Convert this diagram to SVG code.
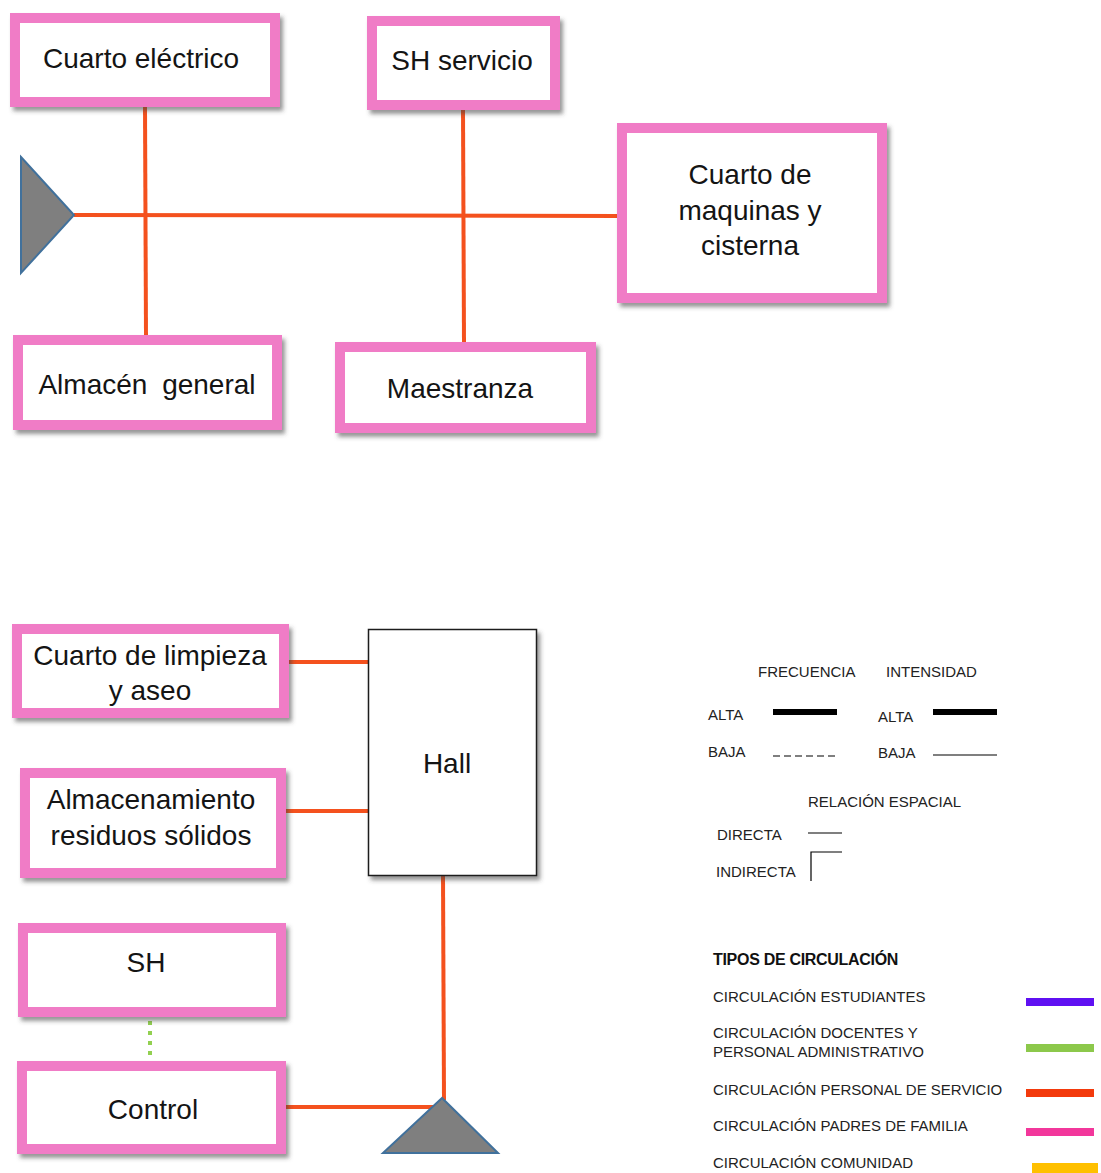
<svg xmlns="http://www.w3.org/2000/svg" width="1101" height="1173" viewBox="0 0 1101 1173">
  <defs>
    <filter id="shadow" x="-10%" y="-10%" width="125%" height="130%">
      <feDropShadow dx="3" dy="4" stdDeviation="2" flood-color="#404040" flood-opacity="0.55"/>
    </filter>
  </defs>
  <style>
    .room { fill: #ffffff; stroke: #f07cc6; stroke-width: 10; filter: url(#shadow); }
    .hall { fill: #ffffff; stroke: #1a1a1a; stroke-width: 1.5; filter: url(#shadow); }
    .label { font-family: "Liberation Sans", Arial, sans-serif; font-size: 28px; fill: #141414; text-anchor: middle; }
    .link { stroke: #f4511e; stroke-width: 4; fill: none; }
    .link-soft { stroke: #92d050; stroke-width: 4; stroke-dasharray: 4 6; fill: none; }
    .access { fill: #7f7f7f; stroke: #41719c; stroke-width: 2; }
    .legend { font-family: "Liberation Sans", Arial, sans-serif; font-size: 15px; fill: #222222; }
    .legend-title { font-family: "Liberation Sans", Arial, sans-serif; font-size: 16px; font-weight: bold; letter-spacing: -0.3px; fill: #111111; }
    .key-thick { stroke: #000000; stroke-width: 6; }
    .key-thin { stroke: #000000; stroke-width: 1.2; fill: none; }
    .key-dash { stroke: #000000; stroke-width: 1.2; stroke-dasharray: 7 4; }
    .swatch { stroke-width: 8; }
  </style>

  <rect width="1101" height="1173" fill="#ffffff"/>

  <!-- connectors -->
  <g id="connectors">
    <line class="link" x1="145" y1="107" x2="146" y2="336"/>
    <line class="link" x1="463" y1="110" x2="464" y2="343"/>
    <line class="link" x1="74" y1="215" x2="618" y2="216"/>
    <line class="link" x1="288" y1="662" x2="369" y2="662"/>
    <line class="link" x1="285" y1="811" x2="369" y2="811"/>
    <line class="link" x1="443" y1="875" x2="444" y2="1100"/>
    <line class="link" x1="285" y1="1107" x2="440" y2="1107"/>
    <line class="link-soft" x1="150" y1="1021" x2="150" y2="1058"/>
  </g>

  <!-- upper group: service rooms -->
  <g id="acceso-servicio">
    <polygon class="access" points="21,157 74,215 21,273"/>
  </g>
  <g id="cuarto-electrico">
    <rect class="room" x="15" y="18" width="260" height="84"/>
    <text class="label" x="141" y="68">Cuarto eléctrico</text>
  </g>
  <g id="sh-servicio">
    <rect class="room" x="372" y="21" width="183" height="84"/>
    <text class="label" x="462" y="70">SH servicio</text>
  </g>
  <g id="cuarto-maquinas">
    <rect class="room" x="622" y="128" width="260" height="170"/>
    <text class="label" x="750" y="184">Cuarto de</text>
    <text class="label" x="750" y="220">maquinas y</text>
    <text class="label" x="750" y="255">cisterna</text>
  </g>
  <g id="almacen-general">
    <rect class="room" x="18" y="340" width="259" height="85"/>
    <text class="label" x="147" y="394" word-spacing="7">Almacén general</text>
  </g>
  <g id="maestranza">
    <rect class="room" x="340" y="347" width="251" height="81"/>
    <text class="label" x="460" y="398">Maestranza</text>
  </g>

  <!-- lower group: hall and rooms -->
  <g id="hall">
    <rect class="hall" x="368.5" y="629.5" width="168" height="246"/>
    <text class="label" x="447" y="773">Hall</text>
  </g>
  <g id="cuarto-limpieza">
    <rect class="room" x="17" y="629" width="267" height="84"/>
    <text class="label" x="150" y="665">Cuarto de limpieza</text>
    <text class="label" x="150" y="700">y aseo</text>
  </g>
  <g id="almacenamiento-residuos">
    <rect class="room" x="25" y="773" width="256" height="100"/>
    <text class="label" x="151" y="809">Almacenamiento</text>
    <text class="label" x="151" y="845">residuos sólidos</text>
  </g>
  <g id="sh">
    <rect class="room" x="23" y="928" width="258" height="84"/>
    <text class="label" x="146" y="972">SH</text>
  </g>
  <g id="control">
    <rect class="room" x="22" y="1066" width="259" height="83"/>
    <text class="label" x="153" y="1119">Control</text>
  </g>
  <g id="acceso-hall">
    <polygon class="access" points="442,1098 383,1153 498,1153"/>
  </g>

  <!-- legend: relationship keys -->
  <g id="leyenda-relacion">
    <text class="legend" x="758" y="677">FRECUENCIA</text>
    <text class="legend" x="886" y="677">INTENSIDAD</text>
    <text class="legend" x="708" y="720">ALTA</text>
    <line class="key-thick" x1="773" y1="712" x2="837" y2="712"/>
    <text class="legend" x="708" y="757">BAJA</text>
    <line class="key-dash" x1="773" y1="756" x2="837" y2="756"/>
    <text class="legend" x="878" y="722">ALTA</text>
    <line class="key-thick" x1="933" y1="712" x2="997" y2="712"/>
    <text class="legend" x="878" y="758">BAJA</text>
    <line class="key-thin" x1="933" y1="755" x2="997" y2="755"/>
    <text class="legend" x="808" y="807">RELACIÓN ESPACIAL</text>
    <text class="legend" x="717" y="840">DIRECTA</text>
    <line class="key-thin" x1="808" y1="833" x2="842" y2="833"/>
    <text class="legend" x="716" y="877">INDIRECTA</text>
    <path class="key-thin" d="M811,881 V852 H842"/>
  </g>

  <!-- legend: circulation types -->
  <g id="leyenda-circulacion">
    <text class="legend-title" x="713" y="965">TIPOS DE CIRCULACIÓN</text>
    <text class="legend" x="713" y="1002">CIRCULACIÓN ESTUDIANTES</text>
    <line class="swatch" x1="1026" y1="1002" x2="1094" y2="1002" stroke="#5f10f2"/>
    <text class="legend" x="713" y="1038">CIRCULACIÓN DOCENTES Y</text>
    <text class="legend" x="713" y="1057">PERSONAL ADMINISTRATIVO</text>
    <line class="swatch" x1="1026" y1="1048" x2="1094" y2="1048" stroke="#8cc84b"/>
    <text class="legend" x="713" y="1095">CIRCULACIÓN PERSONAL DE SERVICIO</text>
    <line class="swatch" x1="1026" y1="1093" x2="1094" y2="1093" stroke="#f33a0c"/>
    <text class="legend" x="713" y="1131">CIRCULACIÓN PADRES DE FAMILIA</text>
    <line class="swatch" x1="1026" y1="1132" x2="1094" y2="1132" stroke="#f2379b"/>
    <text class="legend" x="713" y="1168">CIRCULACIÓN COMUNIDAD</text>
    <rect x="1032" y="1163" width="66" height="10" fill="#ffc000"/>
  </g>
</svg>
